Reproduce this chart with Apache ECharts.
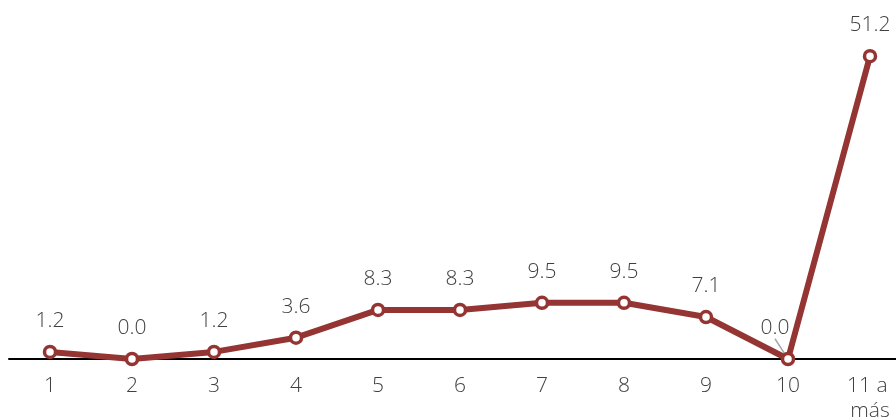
<!DOCTYPE html>
<html>
<head>
<meta charset="utf-8">
<script src="https://cdn.jsdelivr.net/npm/echarts@6/dist/echarts.min.js"></script>
<style>
  html, body { margin: 0; padding: 0; background: #fff; }
  #chart { width: 896px; height: 418px; }
</style>
</head>
<body>
<div id="chart"></div>
<script>
// Categories along the x axis and the percentage shown for each one
const categories = ['1', '2', '3', '4', '5', '6', '7', '8', '9', '10', '11 a más'];
const values = [1.2, 0.0, 1.2, 3.6, 8.3, 8.3, 9.5, 9.5, 7.1, 0.0, 51.2];
// Index of the label moved aside with a leader line
const shiftedLabel = 9;

const lineColor = '#943533';
const textColor = '#404040';
const fontFamily = '"Open Sans", "Noto Sans", sans-serif';

const seriesData = values.map((v, i) => i === shiftedLabel
  ? { value: v, labelLine: { show: true } }
  : { value: v });

const chart = echarts.init(document.getElementById('chart'));
chart.setOption({
  animation: false,
  grid: { left: 9, width: 902, top: 10, bottom: 59, outerBoundsMode: 'none', containLabel: false },
  xAxis: {
    type: 'category',
    data: categories,
    boundaryGap: true,
    axisLine: { lineStyle: { color: '#000', width: 2 } },
    axisTick: { show: false },
    axisLabel: {
      color: textColor,
      fontFamily: fontFamily,
      fontWeight: 300,
      fontSize: 21,
      margin: 15,
      lineHeight: 25,
      width: 50,
      overflow: 'break',
      interval: 0
    }
  },
  yAxis: {
    type: 'value',
    min: 0,
    max: 59,
    show: false,
    splitLine: { show: false }
  },
  series: [{
    type: 'line',
    data: seriesData,
    symbol: 'circle',
    symbolSize: 11,
    lineStyle: { color: lineColor, width: 6 },
    itemStyle: { color: '#fff', borderColor: lineColor, borderWidth: 3.5 },
    label: {
      show: true,
      position: 'top',
      distance: 13,
      color: textColor,
      fontFamily: fontFamily,
      fontWeight: 300,
      fontSize: 21,
      formatter: p => p.value.toFixed(1)
    },
    labelLine: { show: false, lineStyle: { color: '#a6a6a6', width: 1.5 } },
    labelLayout: function (params) {
      if (params.dataIndex === shiftedLabel) {
        return { dx: -13, dy: 0 };
      }
      return {};
    }
  }]
});
</script>
</body>
</html>
